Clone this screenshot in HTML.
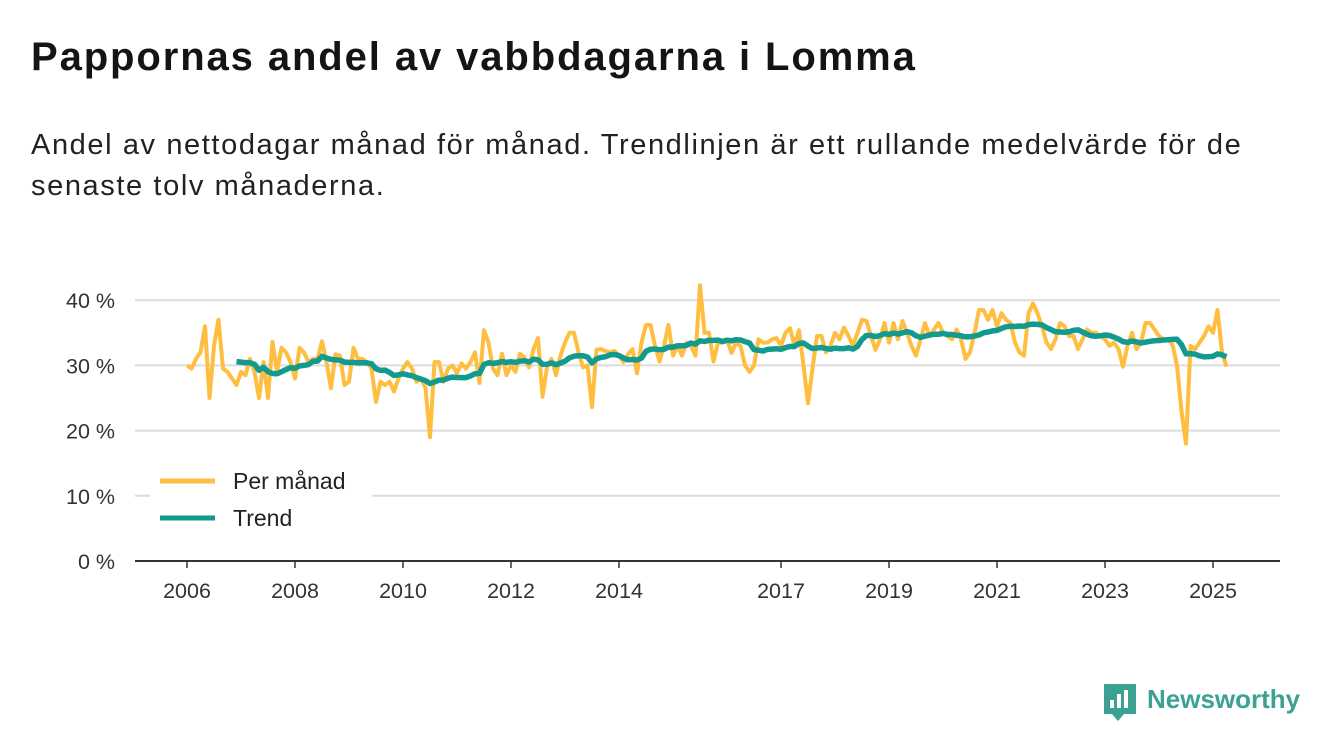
<!DOCTYPE html>
<html><head><meta charset="utf-8">
<style>
body{margin:0;width:1340px;height:753px;background:#fff;font-family:"Liberation Sans","DejaVu Sans",sans-serif;overflow:hidden;position:relative}
h1{position:absolute;left:31px;top:35px;margin:0;font-size:40px;font-weight:bold;color:#141414;letter-spacing:1.9px;white-space:nowrap}
p{position:absolute;left:31px;top:125px;margin:0;font-size:29px;line-height:41px;color:#222;letter-spacing:1.6px;white-space:nowrap}
svg{position:absolute;left:0;top:0}
</style></head><body>
<h1>Pappornas andel av vabbdagarna i Lomma</h1>
<p>Andel av nettodagar månad för månad. Trendlinjen är ett rullande medelvärde för de<br>senaste tolv månaderna.</p>
<svg id="chart" width="1340" height="753"></svg>
<script>
const startYear=2006;
const monthly=[30,29.5,31,32,36,25,33,37,29.5,29,28,27,
29,28.5,31,29,25,30.5,25,33.6,29,32.7,32,30.5,
28,32.7,32,30.5,31,31,33.7,30.5,26.5,31.7,31.5,27,
27.5,32.7,31,31,30.5,29.5,24.4,27.5,27,27.5,26,28,
29.5,30.5,29.5,27.5,28,26.5,19,30.5,30.5,27.5,29.5,30,
28.8,30.3,29.5,30.5,32,27.3,35.4,33.5,29.5,28.5,31.8,28.5,
30,29,31.8,31.2,29.7,32.5,34.2,25.2,29.7,31,28.5,31.5,
33.5,35,35,32,29.7,30,23.6,32.4,32.5,32.2,32,32.2,
31.5,30.5,31.7,32.5,28.8,33.5,36.2,36.2,33,30.6,33,36.2,
31.5,33,31.5,33.5,33,31.5,42.3,35,35,30.6,33.5,33.5,
34,31.9,33.5,33,30,29,30,34,33.5,33.5,34,34.2,
33,35,35.7,33,35.4,30,24.2,29.5,34.5,34.5,32,33,
35,34,35.8,34.5,33,35,37,36.8,34.5,32.4,34,36.5,
33.5,36.5,34,36.8,35,33,31.5,34,36.5,34.5,35.5,36.5,
35,34.5,34,35.5,34,31,32,35,38.5,38.5,37,38.5,
36,38,37,36.5,33.5,32,31.5,38,39.5,38,36,33.5,
32.5,34,36.5,36,34.5,34.5,32.5,34,35.5,35,35,34.5,
34,33,33.5,32.5,29.8,33,35,32.5,33.5,36.5,36.5,35.5,
34.5,34,34,33.2,30,23,18,33,32.5,33.5,34.5,36,35,38.5,32,29.8];
const yTicks=[0,10,20,30,40];
const xTickYears=[2006,2008,2010,2012,2014,2017,2019,2021,2023,2025];
const trendWindow=12;

const NS='http://www.w3.org/2000/svg';
const svg=document.getElementById('chart');
const X0=135,X1=1280;
function xScale(i){return 187+i*4.5;}
function yScale(v){return 561-v*6.52;}
function el(tag,attrs,parent){const e=document.createElementNS(NS,tag);for(const k in attrs)e.setAttribute(k,attrs[k]);(parent||svg).appendChild(e);return e;}

yTicks.forEach(t=>{
  const g=el('line',{x1:X0,x2:X1,y1:yScale(t),y2:yScale(t),stroke:t===0?'#333':'#dcdcdc','stroke-width':2});
  
  
  const tx=el('text',{x:115,y:yScale(t)+8,'text-anchor':'end','font-size':21.5,fill:'#333'});
  tx.textContent=t+' %';
  
  
});
xTickYears.forEach(yr=>{
  const x=xScale((yr-startYear)*12);
  const tk=el('line',{x1:x,x2:x,y1:561,y2:568,stroke:'#333','stroke-width':1.5});
  
  
  const tx=el('text',{x:x,y:598,'text-anchor':'middle','font-size':21.5,fill:'#333'});
  tx.textContent=yr;
  
  
});
const trend=[];
for(let i=trendWindow-1;i<monthly.length;i++){let s=0;for(let j=i-trendWindow+1;j<=i;j++)s+=monthly[j];trend.push([i,s/trendWindow]);}
const mp=el('polyline',{points:monthly.map((v,i)=>xScale(i)+','+yScale(v)).join(' '),fill:'none',stroke:'#ffbe3f','stroke-width':4,'stroke-linejoin':'round'});


const tp=el('polyline',{points:trend.map(p=>xScale(p[0])+','+yScale(p[1])).join(' '),fill:'none',stroke:'#129a8e','stroke-width':5.5,'stroke-linejoin':'round'});


const lb=el('rect',{x:150,y:462,width:222,height:76,fill:'#fff'});


[['Per månad','#ffbe3f',481],['Trend','#129a8e',518]].forEach(d=>{
  const l=el('line',{x1:160,x2:215,y1:d[2],y2:d[2],stroke:d[1],'stroke-width':5});
  
  
  const t=el('text',{x:233,y:d[2]+8,'font-size':23,fill:'#222'});
  t.textContent=d[0];
  
  
});
const lg=el('g',{});


el('path',{d:'M1104 684h32v30h-12l-6 7-6-7h-8z',fill:'#3aa193'},lg);
el('rect',{x:1110,y:700,width:4,height:8,fill:'#fff'},lg);
el('rect',{x:1117,y:694,width:4,height:14,fill:'#fff'},lg);
el('rect',{x:1124,y:690,width:4,height:18,fill:'#fff'},lg);
const lt=el('text',{x:1147,y:708,'font-size':26,'font-weight':'bold',fill:'#3aa193'},lg);
lt.textContent='Newsworthy';
</script>
</body></html>
